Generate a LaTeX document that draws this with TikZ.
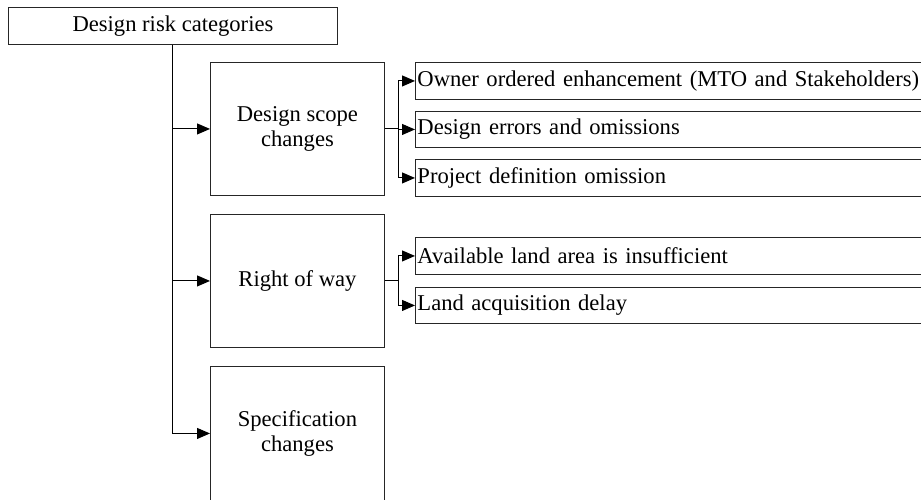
\documentclass[tikz,border=0pt]{standalone}
\usepackage{fontspec}
\setmainfont{Liberation Serif}
\usetikzlibrary{arrows.meta,calc}
\begin{document}
\begin{tikzpicture}[x=1pt,y=-1pt,
  txt/.style={font=\fontsize{22.6}{24.5}\selectfont},
  box/.style={txt, draw=black!85, line width=0.9pt, inner sep=0pt, anchor=north west},
  catbox/.style={box, minimum width=174pt, minimum height=133pt, align=center},
  itembox/.style={box, minimum height=37pt, inner xsep=2pt, text width=516pt, align=left},
  conn/.style={draw=black, line width=1pt, -{Triangle[length=13pt,width=11pt]}},
  link/.style={draw=black, line width=1pt}
]
\useasboundingbox (0,0) rectangle (921,499);
\clip (0,0) rectangle (921,499);

% root
\node[box, minimum width=329pt, minimum height=37pt] (root) at (8,7) {Design risk categories};

% categories
\node[catbox] (scope) at (210,62)  {Design scope\\changes};
\node[catbox] (row)   at (210,214) {Right of way};
\node[catbox, minimum height=134pt] (spec) at (210,366) {Specification\\changes};

% risk items
\node[itembox] (own)  at (415,62)  {Owner ordered enhancement (MTO and Stakeholders)};
\node[itembox, minimum height=36pt] (err)  at (415,111) {Design errors and omissions};
\node[itembox] (pdef) at (415,159) {Project definition omission};
\node[itembox] (land) at (415,237) {Available land area is insufficient};
\node[itembox, minimum height=36pt] (acq)  at (415,287) {Land acquisition delay};

% trunk to categories
\draw[conn] (root.south) |- (scope.west);
\draw[conn] (root.south) |- (row.west);
\draw[conn] (root.south) |- (spec.west);

% branches to risk items
\coordinate (bs) at ($(scope.east)+(14,0)$);
\coordinate (br) at ($(row.east)+(14,0)$);
\draw[link] (scope.east) -- (bs);
\draw[conn] (bs) |- (own.west);
\draw[conn] (bs) |- (err.west);
\draw[conn] (bs) |- (pdef.west);
\draw[link] (row.east) -- (br);
\draw[conn] (br) |- (land.west);
\draw[conn] (br) |- (acq.west);
\end{tikzpicture}
\end{document}
